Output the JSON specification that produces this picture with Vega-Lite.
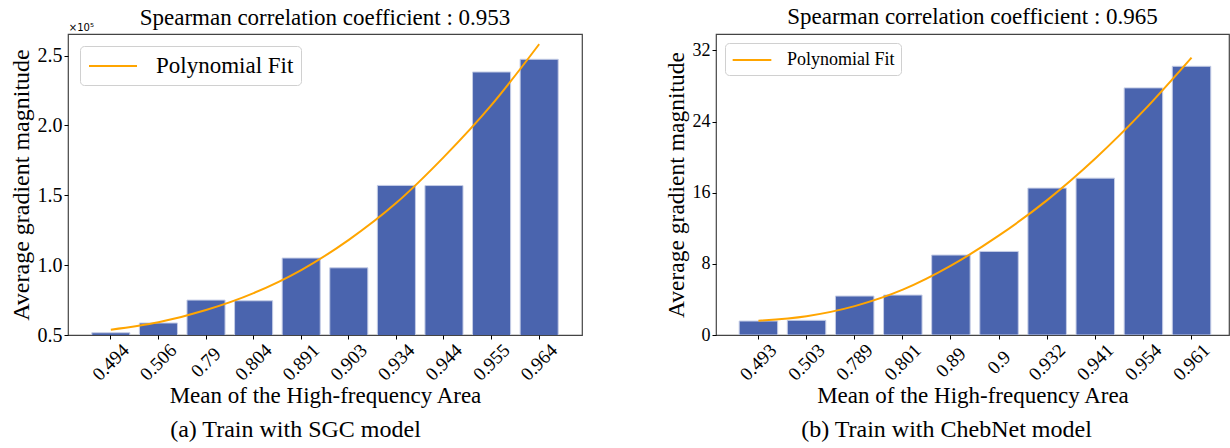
{
  "$schema": "https://vega.github.io/schema/vega-lite/v6.json",
  "padding": {"left": 8, "top": 5, "right": 0, "bottom": 0},
  "background": "white",
  "spacing": 80,
  "config": {
    "font": "Liberation Serif",
    "view": {"stroke": "#444444", "strokeWidth": 1.2},
    "axis": {"labelFont": "Liberation Serif", "titleFont": "Liberation Serif", "labelColor": "black", "titleColor": "black", "tickColor": "black", "titleFontWeight": "normal", "grid": false, "domain": false},
    "legend": {"labelFont": "Liberation Serif", "titleFont": "Liberation Serif"},
    "title": {"font": "Liberation Serif", "fontWeight": "normal", "color": "black"}
  },
  "datasets": {
    "sgc": [
      {"area": "0.494", "grad": 0.516, "fit": 0.538},
      {"area": "0.506", "grad": 0.586, "fit": 0.591},
      {"area": "0.79", "grad": 0.750, "fit": 0.679},
      {"area": "0.804", "grad": 0.745, "fit": 0.800},
      {"area": "0.891", "grad": 1.051, "fit": 0.965},
      {"area": "0.903", "grad": 0.981, "fit": 1.181},
      {"area": "0.934", "grad": 1.571, "fit": 1.446},
      {"area": "0.944", "grad": 1.570, "fit": 1.775},
      {"area": "0.955", "grad": 2.383, "fit": 2.147},
      {"area": "0.964", "grad": 2.474, "fit": 2.582}
    ],
    "cheb": [
      {"area": "0.493", "grad": 1.57, "fit": 1.61},
      {"area": "0.503", "grad": 1.65, "fit": 2.12},
      {"area": "0.789", "grad": 4.38, "fit": 3.25},
      {"area": "0.801", "grad": 4.49, "fit": 5.1},
      {"area": "0.89", "grad": 8.99, "fit": 7.8},
      {"area": "0.9", "grad": 9.4, "fit": 11.2},
      {"area": "0.932", "grad": 16.52, "fit": 15.17},
      {"area": "0.941", "grad": 17.64, "fit": 19.85},
      {"area": "0.954", "grad": 27.79, "fit": 25.2},
      {"area": "0.961", "grad": 30.22, "fit": 31.2}
    ]
  },
  "hconcat": [
    {
      "title": {"text": "(a) Train with SGC model", "orient": "bottom", "anchor": "middle", "fontSize": 24, "offset": 10},
      "vconcat": [
        {
          "width": 514,
          "height": 301,
          "title": {"text": "Spearman correlation coefficient : 0.953", "fontSize": 23, "frame": "group", "anchor": "middle", "offset": -7},
          "data": {"name": "sgc"},
          "encoding": {
            "x": {
              "field": "area", "type": "ordinal", "sort": null,
              "scale": {"paddingInner": 0.2, "paddingOuter": 0.5},
              "axis": {"title": "Mean of the High-frequency Area", "titleFontSize": 23, "labelFontSize": 19, "labelAngle": -45, "labelAlign": "center", "labelBaseline": "middle", "labelPadding": 23, "tickSize": 4, "titlePadding": 0}
            }
          },
          "layer": [
            {
              "mark": {"type": "bar", "color": "#4a64ae", "stroke": "#c5cde6", "strokeWidth": 1, "clip": true},
              "encoding": {
                "y": {
                  "field": "grad", "type": "quantitative",
                  "title": "Average gradient magnitude",
                  "scale": {"domain": [0.5, 2.655], "nice": false, "zero": false},
                  "axis": {"values": [0.5, 1.0, 1.5, 2.0, 2.5], "format": ".1f", "labelFontSize": 20, "titleFontSize": 24, "tickSize": 4, "labelPadding": 2, "titlePadding": 4}
                }
              }
            },
            {
              "mark": {"type": "line", "interpolate": "monotone", "strokeWidth": 2},
              "encoding": {
                "y": {"field": "fit", "type": "quantitative", "title": "Average gradient magnitude"},
                "color": {
                  "datum": "Polynomial Fit",
                  "scale": {"range": ["#FFA500"]},
                  "legend": {"title": null, "orient": "top-left", "offset": 12, "symbolType": "M-2,0H2", "symbolSize": 576, "symbolStrokeWidth": 2, "symbolOffset": 13, "labelFontSize": 23, "labelOffset": 30, "padding": 7, "strokeColor": "#d0d0d0", "cornerRadius": 4, "fillColor": "white", "labelColor": "black"}
                }
              }
            },
            {
              "data": {"values": [{}]},
              "mark": {"type": "text", "font": "DejaVu Sans", "fontSize": 10, "align": "left", "baseline": "bottom", "dx": -42, "dy": -1, "color": "black"},
              "encoding": {
                "x": {"datum": "0.494"},
                "y": {"datum": 2.655},
                "text": {"value": "×10⁵"}
              }
            }
          ]
        }
      ]
    },
    {
      "title": {"text": "(b) Train with ChebNet model", "orient": "bottom", "anchor": "middle", "fontSize": 24, "offset": 10},
      "vconcat": [
        {
          "width": 513,
          "height": 301,
          "title": {"text": "Spearman correlation coefficient : 0.965", "fontSize": 23, "frame": "group", "anchor": "middle", "offset": 5},
          "data": {"name": "cheb"},
          "encoding": {
            "x": {
              "field": "area", "type": "ordinal", "sort": null,
              "scale": {"paddingInner": 0.2, "paddingOuter": 0.43, "align": 0.56},
              "axis": {"title": "Mean of the High-frequency Area", "titleFontSize": 23, "labelFontSize": 19, "labelAngle": -45, "labelAlign": "center", "labelBaseline": "middle", "labelPadding": 23, "tickSize": 4, "titlePadding": 0}
            }
          },
          "layer": [
            {
              "mark": {"type": "bar", "color": "#4a64ae", "stroke": "#c5cde6", "strokeWidth": 1, "clip": true},
              "encoding": {
                "y": {
                  "field": "grad", "type": "quantitative",
                  "title": "Average gradient magnitude",
                  "scale": {"domain": [0, 33.85], "nice": false, "zero": false},
                  "axis": {"values": [0, 8, 16, 24, 32], "labelFontSize": 18, "titleFontSize": 23.5, "tickSize": 4, "labelPadding": 2, "titlePadding": 4}
                }
              }
            },
            {
              "mark": {"type": "line", "interpolate": "monotone", "strokeWidth": 2},
              "encoding": {
                "y": {"field": "fit", "type": "quantitative", "title": "Average gradient magnitude"},
                "color": {
                  "datum": "Polynomial Fit",
                  "scale": {"range": ["#FFA500"]},
                  "legend": {"title": null, "orient": "top-left", "offset": 9, "symbolType": "M-2,0H2", "symbolSize": 374, "symbolStrokeWidth": 2, "symbolOffset": 10, "labelFontSize": 18, "labelOffset": 24, "padding": 6, "strokeColor": "#d0d0d0", "cornerRadius": 4, "fillColor": "white", "labelColor": "black"}
                }
              }
            }
          ]
        }
      ]
    }
  ],
  "resolve": {"scale": {"color": "independent"}, "legend": {"color": "independent"}}
}
